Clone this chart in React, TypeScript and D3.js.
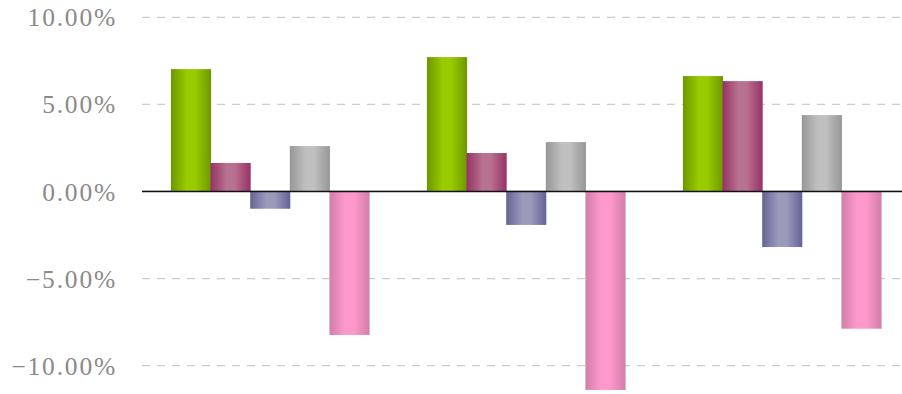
import React from "react";
import * as d3 from "d3";

const categories = ["G1", "G2", "G3"];
const seriesNames = ["S1", "S2", "S3", "S4", "S5"];
const s1 = [7.03, 7.72, 6.63];
const s2 = [1.64, 2.21, 6.34];
const s3 = [-0.99, -1.92, -3.19];
const s4 = [2.61, 2.84, 4.39];
const s5 = [-8.24, -11.4, -7.88];
const seriesValues = [s1, s2, s3, s4, s5];
const tickValues = [10, 5, 0, -5, -10];
const tickLabels = ["10.00%", "5.00%", "0.00%", "\u22125.00%", "\u221210.00%"];

// light centre / dark edge colours for each series
const lightColors = ["#99cc00", "#b87191", "#9a9abb", "#c0c0c0", "#ff99cc"];
const darkColors = ["#6d9700", "#973264", "#646496", "#979797", "#d27ea9"];

const W = 902;
const H = 394;

export default function App() {
  const y = d3.scaleLinear().domain([-10, 10]).range([365.6, 17.4]);
  const x0 = d3.scaleBand<string>().domain(categories).range([142, 910]).padding(0);
  const x1 = d3
    .scaleBand<string>()
    .domain(seriesNames)
    .range([0, x0.bandwidth()])
    .paddingInner(0)
    .paddingOuter(0.73);
  const y0 = y(0);

  return (
    <svg
      width={W}
      height={H}
      style={{ position: "fixed", left: 0, top: 0, background: "#fff" }}
    >
      <defs>
        {seriesNames.map((s, i) => (
          <linearGradient key={s} id={`grad-${i}`} x1="0" x2="1" y1="0" y2="0">
            <stop offset="0" stopColor={darkColors[i]} />
            <stop offset="0.4" stopColor={lightColors[i]} />
            <stop offset="0.6" stopColor={lightColors[i]} />
            <stop offset="1" stopColor={darkColors[i]} />
          </linearGradient>
        ))}
      </defs>

      {tickValues.map((t) =>
        t === 0 ? null : (
          <line
            key={`g${t}`}
            x1={142}
            x2={W}
            y1={y(t)}
            y2={y(t)}
            stroke="#cccccc"
            strokeWidth={1.2}
            strokeDasharray="8,7"
          />
        )
      )}
      <line x1={142} x2={W} y1={y0 - 1} y2={y0 - 1} stroke="#d8d8d8" strokeWidth={1} />

      {tickValues.map((t, i) => (
        <text
          key={`t${t}`}
          x={117}
          y={y(t) + 9}
          textAnchor="end"
          fill="#8a8a8a"
          fontFamily="'Liberation Serif', serif"
          fontSize={25.5}
          letterSpacing={1.8}
        >
          {tickLabels[i]}
        </text>
      ))}

      {categories.map((c, ci) => (
        <g key={c} transform={`translate(${x0(c)},0)`}>
          {seriesNames.map((s, si) => {
            const v = seriesValues[si][ci];
            const top = v >= 0 ? y(v) : y0;
            const h = Math.abs(y(v) - y0);
            return (
              <rect
                key={s}
                x={x1(s)}
                y={top}
                width={x1.bandwidth() + 0.5}
                height={h}
                fill={`url(#grad-${si})`}
              />
            );
          })}
        </g>
      ))}

      <line x1={142} x2={W} y1={y0} y2={y0} stroke="#111" strokeWidth={1.3} />
    </svg>
  );
}
